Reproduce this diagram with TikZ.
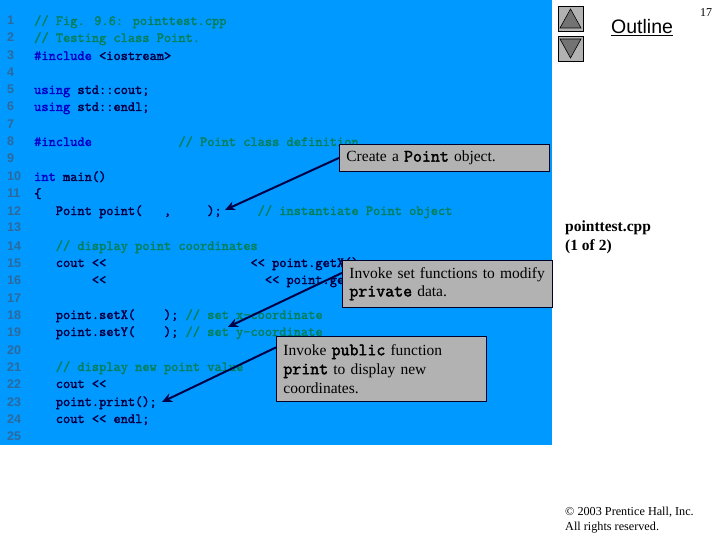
\documentclass[tikz,border=0pt]{standalone}
\usepackage{fontspec}
\usetikzlibrary{arrows.meta}
\setmainfont{Liberation Serif}
\newfontfamily\uifont{Liberation Sans}
\newfontfamily\codefont[FakeBold=2.2]{Latin Modern Mono}
\definecolor{panelblue}{RGB}{0,153,255}
\definecolor{codenavy}{RGB}{0,0,70}
\definecolor{codekw}{RGB}{0,0,200}
\definecolor{codecmt}{RGB}{0,128,90}
\definecolor{linenum}{RGB}{45,105,155}
\definecolor{calloutfill}{RGB}{178,178,178}
\definecolor{calloutedge}{RGB}{0,0,40}
\definecolor{navfill}{RGB}{178,178,178}
\definecolor{navtri}{RGB}{115,115,115}
\newcommand{\kw}[1]{\textcolor{codekw}{#1}}
\newcommand{\cm}[1]{\textcolor{codecmt}{#1}}
\newcommand{\mb}[1]{{\codefont\fontsize{17.4}{19}\selectfont #1}}
\tikzset{
  codeline/.style={anchor=base west,inner sep=0pt,text=codenavy,font=\codefont\fontsize{14}{14}\selectfont},
  numline/.style={anchor=base west,inner sep=0pt,text=linenum,font=\uifont\bfseries\fontsize{12.5}{14}\selectfont},
  callout/.style={anchor=north west,draw=calloutedge,line width=0.8pt,fill=calloutfill,inner xsep=7pt,inner ysep=0pt,align=left,text width=196pt,text=black,font=\fontsize{15.5}{19}\selectfont},
  pointer/.style={draw=codenavy,line width=2pt,-{Stealth[length=10pt,width=9pt]}},
  navbtn/.style={draw=black,line width=0.8pt,fill=navfill,minimum size=25pt,inner sep=0pt,anchor=north west},
  navarrow/.style={draw=black,line width=0.6pt,fill=navtri},
  sidetext/.style={anchor=base west,inner sep=0pt,align=left}
}
\begin{document}
\begin{tikzpicture}[x=1pt,y=-1pt]
\useasboundingbox (0,0) rectangle (720,540);
\fill[panelblue] (0,0) rectangle (552,445);
% line numbers
\foreach \n/\yy in {1/25,2/42,3/60,4/77,5/94,6/111,7/129,8/146,9/163,10/181,11/198,12/215,13/232,14/250,15/267,16/284,17/302,18/319,19/336,20/354,21/371,22/388,23/406,24/423,25/440}
  \node[numline] (n\n) at (7,\yy) {\n};
% code
\node[codeline] (l1) at (34,25) {\cm{// Fig. 9.6: pointtest.cpp}};
\node[codeline] (l2) at (34,42) {\cm{// Testing class Point.}};
\node[codeline] (l3) at (34,60) {\kw{\#include} <iostream>};
\node[codeline] (l5) at (34,94) {\kw{using} std::cout;};
\node[codeline] (l6) at (34,111) {\kw{using} std::endl;};
\node[codeline] (l8) at (34,146) {\kw{\#include}~~~~~~~~~~~~\cm{// Point class definition}};
\node[codeline] (l10) at (34,181) {\kw{int} main()};
\node[codeline] (l11) at (34,198) {\{};
\node[codeline] (l12) at (34,215) {~~~Point point(~~~,~~~~~);~~~~~\cm{// instantiate Point object}};
\node[codeline] (l14) at (34,250) {~~~\cm{// display point coordinates}};
\node[codeline] (l15) at (34,267) {~~~cout <<~~~~~~~~~~~~~~~~~~~~<< point.getX()};
\node[codeline] (l16) at (34,284) {~~~~~~~~<<~~~~~~~~~~~~~~~~~~~~~~<< point.getY();};
\node[codeline] (l18) at (34,319) {~~~point.setX(~~~~); \cm{// set x-coordinate}};
\node[codeline] (l19) at (34,336) {~~~point.setY(~~~~); \cm{// set y-coordinate}};
\node[codeline] (l21) at (34,371) {~~~\cm{// display new point value}};
\node[codeline] (l22) at (34,388) {~~~cout <<};
\node[codeline] (l23) at (34,406) {~~~point.print();};
\node[codeline] (l24) at (34,423) {~~~cout << endl;};
% callouts
\node[callout,minimum height=27pt] (c1) at (339,144) {Create a \mb{Point} object.};
\node[callout,minimum height=47pt] (c2) at (342,260) {Invoke set functions to modify\\[-1pt]\mb{private} data.};
\node[callout,minimum height=65pt] (c3) at (276,336) {Invoke \mb{public} function\\\mb{print} to display new\\coordinates.};
% pointers
\coordinate (t1) at (225,210);
\coordinate (t2) at (228,327);
\coordinate (t3) at (162,402);
\draw[pointer] (c1.west) -- (t1);
\draw[pointer] ([yshift=11pt]c2.west) -- (t2);
\draw[pointer] ([yshift=21.5pt]c3.west) -- (t3);
% navigation
\node[navbtn] (up) at (558,6) {};
\node[navbtn] (down) at (558,36) {};
\draw[navarrow] (560,28) -- (581,28) -- (570.5,9) -- cycle;
\draw[navarrow] (560,39) -- (581,39) -- (570.5,58) -- cycle;
\node[sidetext,font=\uifont\fontsize{19.5}{20}\selectfont] (outline) at (611,34) {\underline{Outline}};
\node[sidetext,font=\fontsize{12}{14}\selectfont] (page) at (700,17) {17};
\node[sidetext,font=\bfseries\fontsize{15.5}{15}\selectfont] (fname) at (565,232) {pointtest.cpp};
\node[sidetext,font=\bfseries\fontsize{15.5}{15}\selectfont] (part) at (565,251) {(1 of 2)};
\node[sidetext,font=\fontsize{12.2}{14}\selectfont] (copy1) at (565,515) {© 2003 Prentice Hall, Inc.};
\node[sidetext,font=\fontsize{12.2}{14}\selectfont] (copy2) at (565,530) {All rights reserved.};
\end{tikzpicture}
\end{document}
